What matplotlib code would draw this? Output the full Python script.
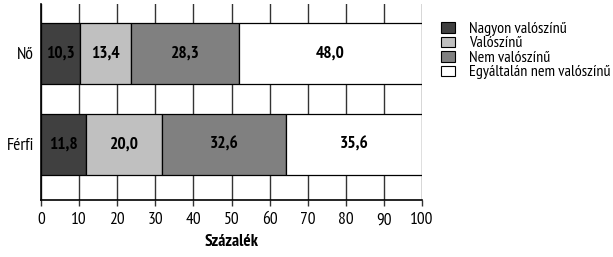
import matplotlib
matplotlib.use("Agg")
import matplotlib.pyplot as plt
from matplotlib.patches import Patch
import matplotlib.font_manager as fm

names = {f.name for f in fm.fontManager.ttflist}
fam = "DejaVu Sans"
for cand in ["PT Sans Narrow", "Roboto Condensed", "Fira Sans Condensed", "Open Sans Condensed",
             "Archivo Narrow", "Liberation Sans Narrow", "Asap Condensed", "Encode Sans Condensed"]:
    if cand in names:
        fam = cand
        break
plt.rcParams['font.family'] = [fam, 'DejaVu Sans']

categories = ["Férfi", "Nő"]
series_names = ["Nagyon valószínű", "Valószínű", "Nem valószínű", "Egyáltalán nem valószínű"]
values = {
    "Nagyon valószínű": [11.8, 10.3],
    "Valószínű": [20.0, 13.4],
    "Nem valószínű": [32.6, 28.3],
    "Egyáltalán nem valószínű": [35.6, 48.0],
}
colors = ["#404040", "#c0c0c0", "#808080", "#ffffff"]
xticks = list(range(0, 101, 10))

fig = plt.figure(figsize=(6.13, 2.57), dpi=100)
ax = fig.add_axes([41/613, 1 - 200/257, (422-41)/613, 196/257])

ypos = list(range(len(categories)))
left = [0.0] * len(categories)
for name, c in zip(series_names, colors):
    vals = values[name]
    ax.barh(ypos, vals, left=left, height=0.67, color=c, edgecolor="black", linewidth=0.9, zorder=3)
    for y, l, v in zip(ypos, left, vals):
        ax.text(l + v / 2, y, f"{v:.1f}".replace(".", ","), ha="center", va="center",
                fontsize=12.5, fontweight="bold", zorder=4)
    left = [l + v for l, v in zip(left, vals)]

ax.set_xlim(0, 100)
ax.set_ylim(-0.615, 1.54)
ax.set_xticks(xticks)
ax.set_xticklabels([str(t) for t in xticks], fontsize=12.5)
ax.set_yticks(ypos)
ax.set_yticklabels(categories, fontsize=12.5)
ax.tick_params(axis="y", length=0, pad=5)
ax.tick_params(axis="x", length=4, width=1, color="#333333", pad=5)
ax.grid(axis="x", color="#333333", linewidth=1, zorder=0)
for s in ["top", "right"]:
    ax.spines[s].set_visible(False)
ax.spines["left"].set_linewidth(1.2)
ax.spines["bottom"].set_linewidth(1.2)
ax.set_xlabel("Százalék", fontsize=12.5, fontweight="bold", labelpad=4)

handles = [Patch(facecolor=c, edgecolor="black", linewidth=0.8, label=n) for n, c in zip(series_names, colors)]
fig.legend(handles=handles, loc="upper left", bbox_to_anchor=(441/613, 1 - 22/257), frameon=False,
           fontsize=11.5, handlelength=0.85, handleheight=0.62, handletextpad=0.9, labelspacing=0.03,
           borderaxespad=0, borderpad=0)

fig.savefig("out.png", dpi=100)
